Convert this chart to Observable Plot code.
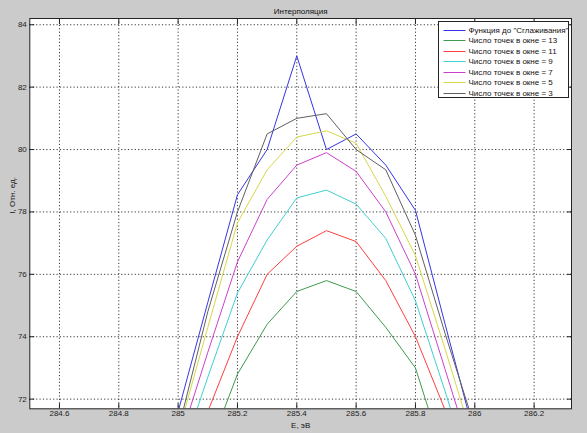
<!DOCTYPE html>
<html>
<head>
<meta charset="utf-8">
<script src="https://cdn.jsdelivr.net/npm/d3@7"></script>
<script src="https://cdn.jsdelivr.net/npm/@observablehq/plot@0.6"></script>
<style>
html, body { margin: 0; padding: 0; background: #cbcbcb; }
#chart { width: 587px; height: 433px; }
</style>
</head>
<body>
<div id="chart"></div>
<script>
// ---- data ----
const energy = [285.0, 285.1, 285.2, 285.3, 285.4, 285.5, 285.6, 285.7, 285.8, 285.9, 286.0];
const rawValues = [71.6, 75.1, 78.55, 80.0, 83.0, 80.0, 80.5, 79.5, 78.05, 74.4, 70.8];
const window13 = [67.5, 70.3, 72.8, 74.4, 75.45, 75.8, 75.45, 74.3, 73.0, 70.0, 67.5];
const window11 = [69.0, 71.6, 74.0, 76.0, 76.9, 77.4, 77.05, 75.8, 74.0, 71.65, 69.3];
const window9  = [69.9, 72.7, 75.4, 77.1, 78.45, 78.7, 78.25, 77.15, 75.15, 72.25, 69.2];
const window7  = [70.5, 73.5, 76.4, 78.4, 79.5, 79.9, 79.3, 78.0, 76.0, 72.95, 69.9];
const window5  = [70.9, 74.3, 77.65, 79.35, 80.4, 80.6, 80.2, 78.5, 76.6, 73.6, 70.5];
const window3  = [71.0, 74.8, 78.0, 80.5, 81.0, 81.15, 80.0, 79.35, 77.25, 74.1, 71.1];

const seriesNames = [
  "Функция до \"Сглаживания\"",
  "Число точек в окне = 13",
  "Число точек в окне = 11",
  "Число точек в окне = 9",
  "Число точек в окне = 7",
  "Число точек в окне = 5",
  "Число точек в окне = 3"
];
const seriesValues = [rawValues, window13, window11, window9, window7, window5, window3];
const seriesColors = ["#3535e6", "#3f9a4f", "#ff3f3f", "#3fcfcf", "#cc40cc", "#d6d64a", "#606060"];

const xTicks = [284.6, 284.8, 285.0, 285.2, 285.4, 285.6, 285.8, 286.0, 286.2];
const yTicks = [72, 74, 76, 78, 80, 82, 84];

const titleText = "Интерполяция";
const xLabel = "E, эВ";
const yLabel = "I, Отн. ед.";

// ---- table for the library ----
const rows = seriesNames.flatMap((name, i) =>
  energy.map((e, j) => ({ name, e, v: seriesValues[i][j] })));

const font = "'Liberation Sans', Arial, Helvetica, sans-serif";

const chart = Plot.plot({
  width: 587,
  height: 433,
  marginLeft: 29.3,
  marginRight: 16,
  marginTop: 18,
  marginBottom: 24.7,
  style: { background: "#cbcbcb", fontFamily: font, fontSize: "8px", color: "#222" },
  x: { domain: [284.5, 286.326] },
  y: { domain: [71.69, 84.2] },
  color: { domain: seriesNames, range: seriesColors },
  marks: [
    Plot.frame({ fill: "white", stroke: null }),
    Plot.gridX(xTicks, { stroke: "#222", strokeOpacity: 0.9, strokeDasharray: "1.2,2.2" }),
    Plot.gridY(yTicks, { stroke: "#222", strokeOpacity: 0.9, strokeDasharray: "1.2,2.2" }),
    Plot.line(rows, { x: "e", y: "v", z: "name", stroke: "name", strokeWidth: 1, clip: true }),
    Plot.axisX(xTicks, { anchor: "bottom", tickSize: 0, tickPadding: 2, label: null, fill: "#222",
      tickFormat: d => String(+d.toFixed(1)) }),
    Plot.axisX(xTicks, { anchor: "bottom", tickSize: -5, fill: "none", label: null, stroke: "#222" }),
    Plot.axisX(xTicks, { anchor: "top", tickSize: -5, fill: "none", label: null, stroke: "#222" }),
    Plot.axisY(yTicks, { anchor: "left", tickSize: 0, tickPadding: 3, label: null, fill: "#222",
      tickFormat: d => String(d) }),
    Plot.axisY(yTicks, { anchor: "left", tickSize: -5, fill: "none", label: null, stroke: "#222" }),
    Plot.axisY(yTicks, { anchor: "right", tickSize: -5, fill: "none", label: null, stroke: "#222" }),
    Plot.frame({ stroke: "#222", strokeWidth: 1 }),
    Plot.text([titleText], { frameAnchor: "top", lineAnchor: "middle", dy: -7, fill: "#111", fontSize: 8 }),
    Plot.text([xLabel], { frameAnchor: "bottom", lineAnchor: "middle", dy: 17, fill: "#111", fontSize: 8 }),
    Plot.text([yLabel], { frameAnchor: "left", dx: -17, rotate: -90, fill: "#111", fontSize: 8 })
  ]
});

document.getElementById("chart").appendChild(chart);

// ---- legend box (drawn into the same SVG) ----
const svg = d3.select(chart);
const lg = svg.append("g").attr("class", "legend").attr("text-anchor", "start");
const lx = 438.5, ly = 21.5, lw = 130, rowH = 10.5, firstRow = 29.5;
lg.append("rect")
  .attr("x", lx).attr("y", ly).attr("width", lw).attr("height", 76)
  .attr("fill", "white").attr("stroke", "#222").attr("stroke-width", 1);
seriesNames.forEach((name, i) => {
  const y = Math.round(firstRow + i * rowH) + 0.5;
  lg.append("line")
    .attr("x1", lx + 5).attr("x2", lx + 27).attr("y1", y).attr("y2", y)
    .attr("stroke", seriesColors[i]).attr("stroke-width", 1);
  lg.append("text")
    .attr("x", lx + 30).attr("y", y).attr("dy", "0.32em")
    .attr("text-anchor", "start")
    .attr("font-family", font).attr("font-size", 8).attr("fill", "#111")
    .text(name);
});
</script>
</body>
</html>
